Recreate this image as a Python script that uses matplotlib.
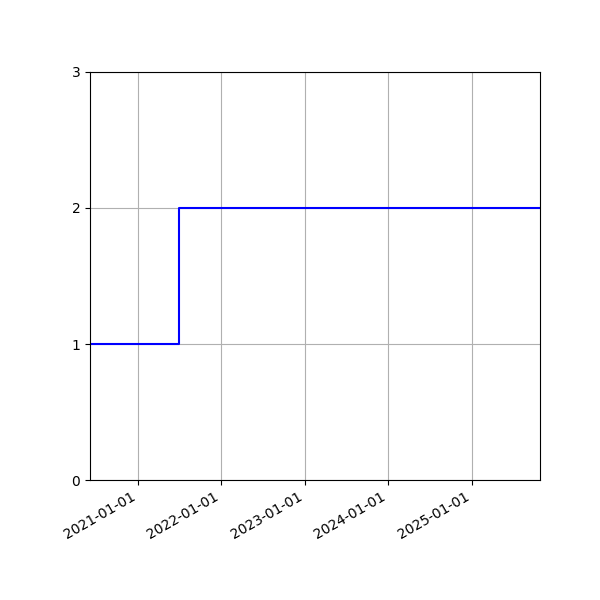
import matplotlib
matplotlib.use("Agg")
import matplotlib.pyplot as plt
import matplotlib.dates as mdates
from datetime import datetime

dates = [datetime(2020, 6, 6), datetime(2021, 6, 30), datetime(2025, 10, 26)]
values = [1, 2, 2]

fig = plt.figure(figsize=(6, 6), dpi=100)
ax = fig.add_axes([0.15, 0.2, 0.75, 0.68])
ax.step(dates, values, where='post', color='blue')
ax.set_xlim(dates[0], dates[-1])
ax.set_ylim(0, 3)
ax.set_yticks([0, 1, 2, 3])
ax.xaxis.set_major_locator(mdates.YearLocator())
ax.xaxis.set_major_formatter(mdates.DateFormatter('%Y-%m-%d'))
ax.grid(True)
for lbl in ax.get_xticklabels():
    lbl.set_rotation(30)
    lbl.set_ha('right')
fig.savefig('out.png')
